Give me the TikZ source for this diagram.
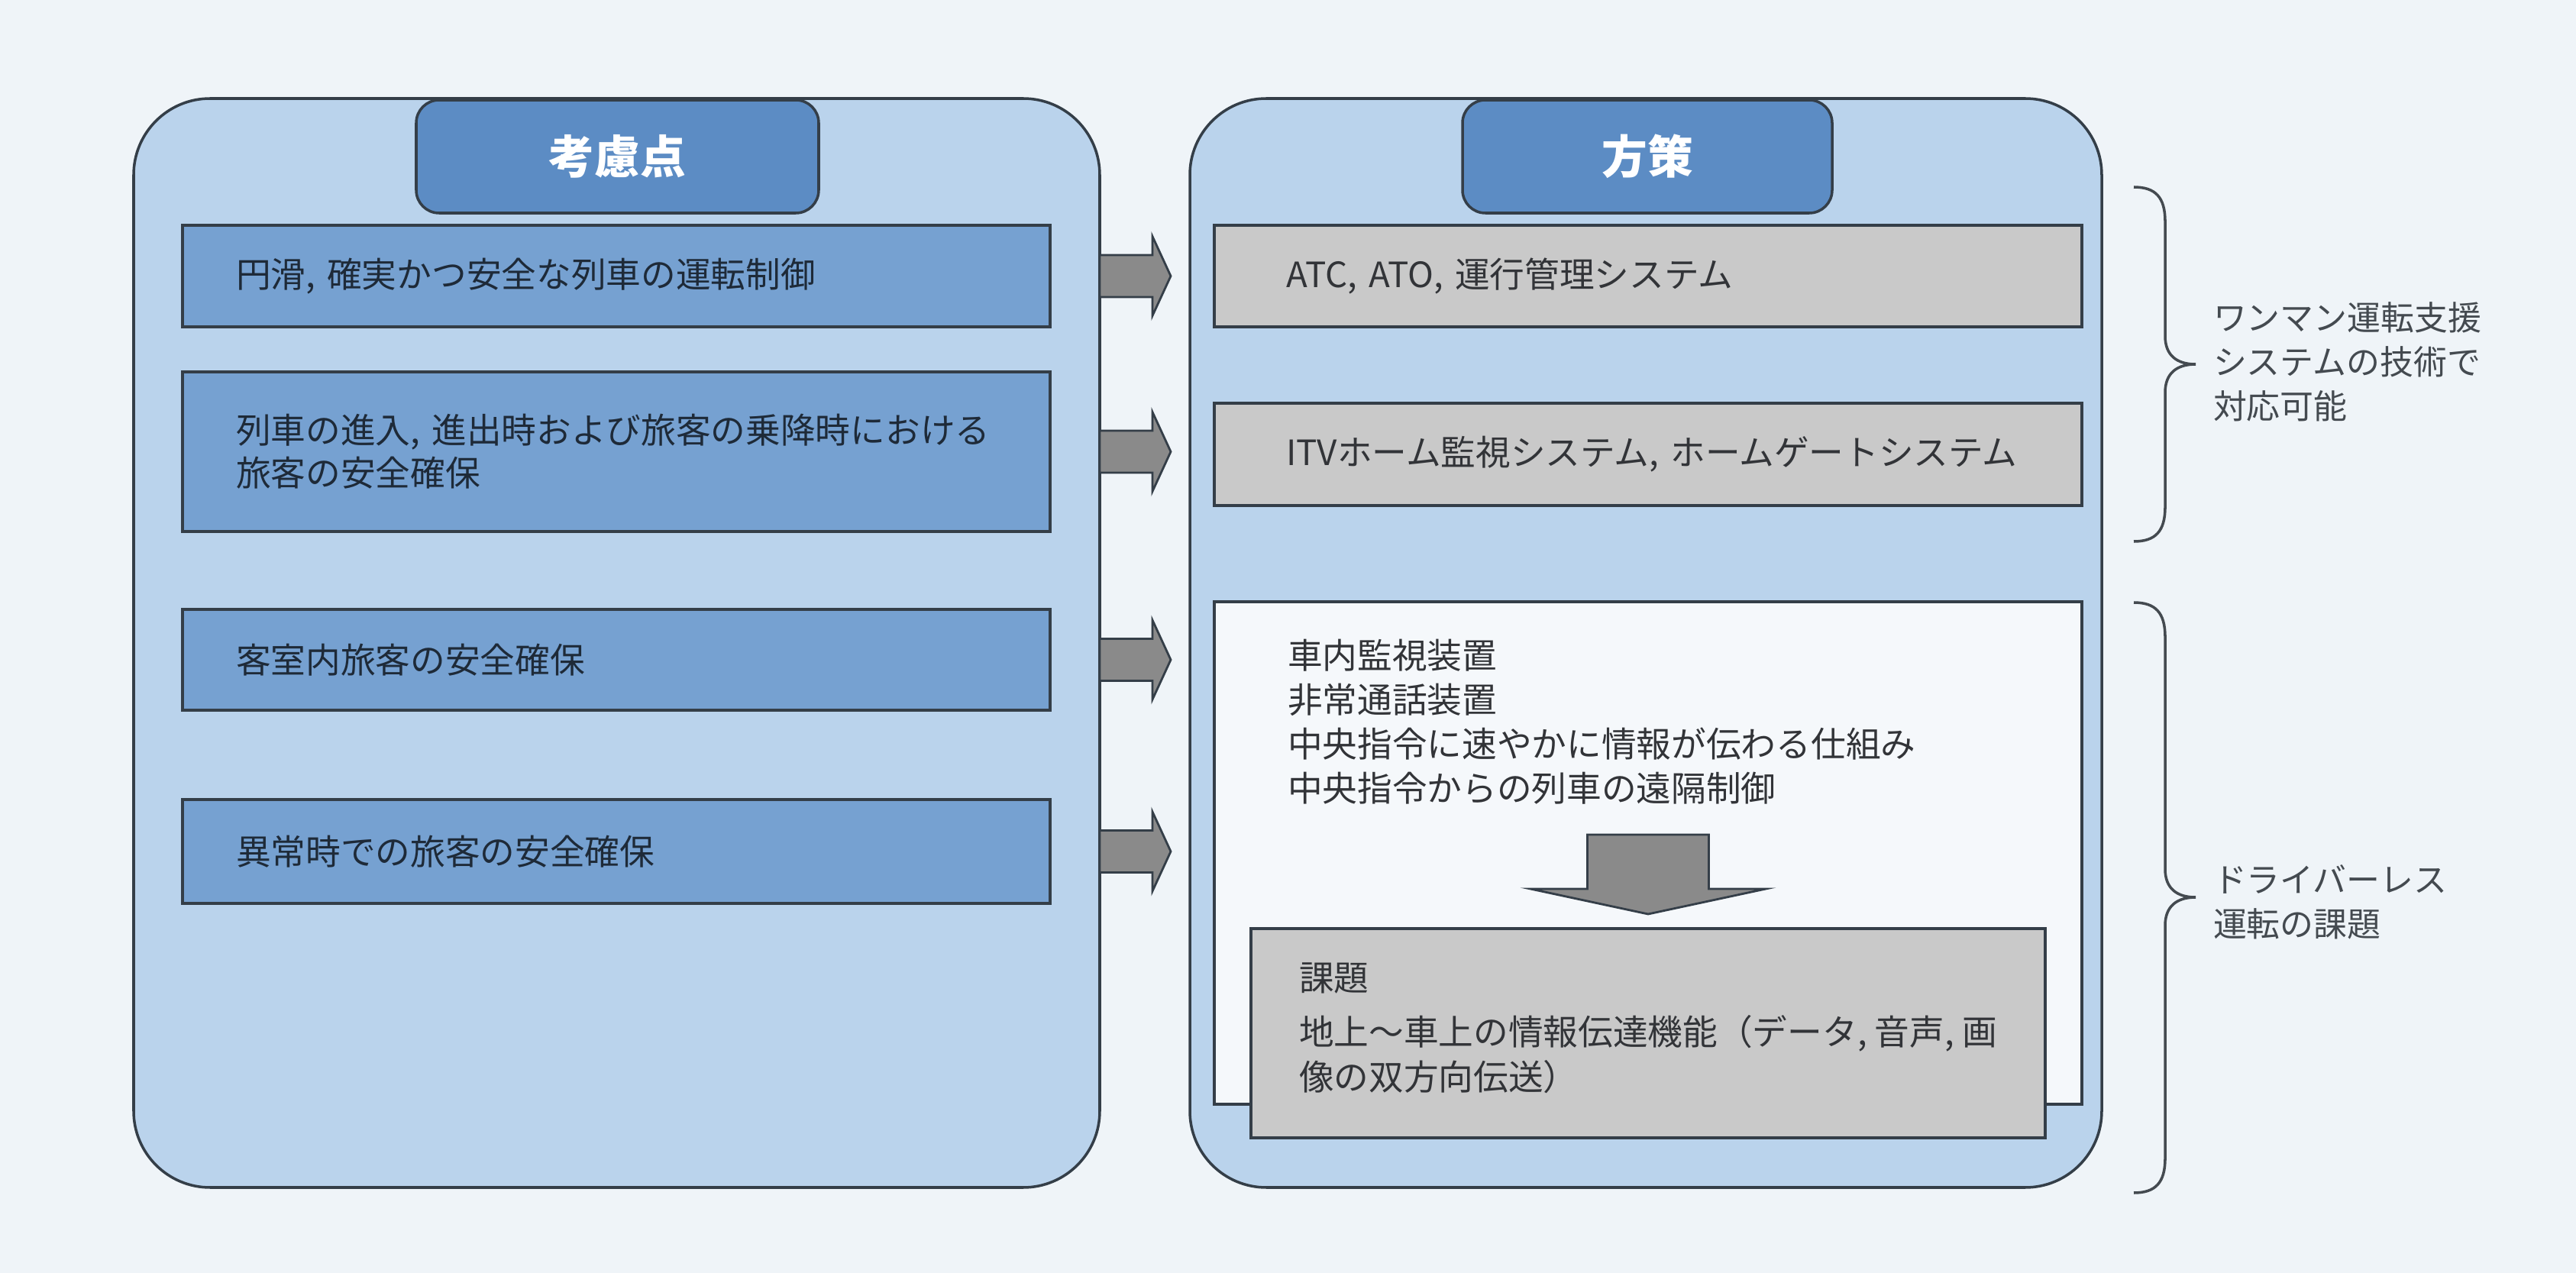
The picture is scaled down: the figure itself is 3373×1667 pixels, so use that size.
\documentclass[tikz,border=0pt]{standalone}
\usepackage{fontspec}
\setmainfont{Noto Sans CJK JP}
\usetikzlibrary{calc}
\definecolor{bgc}{RGB}{239,244,248}
\definecolor{outerc}{RGB}{186,211,236}
\definecolor{tabc}{RGB}{92,140,196}
\definecolor{lbarc}{RGB}{118,161,209}
\definecolor{grayc}{RGB}{201,201,201}
\definecolor{whitec}{RGB}{245,248,251}
\definecolor{arrowc}{RGB}{138,138,138}
\definecolor{linec}{RGB}{52,62,72}
\definecolor{txtc}{RGB}{30,42,56}
\definecolor{rtxtc}{RGB}{50,52,56}
\definecolor{labc}{RGB}{68,74,80}
\newcommand\myBody{\fontsize{13pt}{16pt}\selectfont}
\begin{document}
\begin{tikzpicture}[x=0.1mm,y=-0.1mm,line width=1pt,
  every node/.style={inner sep=0pt,outer sep=0pt},
  panel/.style={draw=linec,fill=outerc,rounded corners=10mm,minimum width=#1,minimum height=142.6mm,anchor=north west},
  tab/.style={draw=linec,fill=tabc,rounded corners=3mm,minimum width=#1,minimum height=14.8mm,anchor=north west,text=white,font=\fontsize{17pt}{20pt}\selectfont\bfseries},
  lbar/.style={draw=linec,fill=lbarc,minimum width=113.6mm,text width=99.6mm,inner xsep=7mm,align=left,anchor=north west,minimum height=#1,text=txtc,font=\myBody},
  rbar/.style={draw=linec,fill=grayc,minimum width=113.6mm,text width=94.8mm,inner xsep=9.4mm,align=left,anchor=north west,minimum height=#1,text=rtxtc,font=\myBody},
  plain/.style={align=left,anchor=west,text=rtxtc,font=\myBody},
  lab/.style={align=left,anchor=west,text=labc,font=\fontsize{12.5pt}{16.5pt}\selectfont},
  blockarrow/.style={draw=linec,fill=arrowc,line width=0.8pt,line join=miter},
  bracestyle/.style={draw=labc,line width=1pt}]
\fill[bgc] (0,0) rectangle (3373,1667);
\useasboundingbox (0,0) rectangle (3373,1667);

% panels
\node[panel=126.5mm] (LP) at (175,129) {};
\node[panel=119.4mm] (RP) at (1558,129) {};
\node[tab=52.7mm] (LT) at (545,131) {考慮点};
\node[tab=48.4mm] (RT) at (1915,131) {方策};

% left bars
\node[lbar=13.3mm] (L1) at (239,295) {円滑, 確実かつ安全な列車の運転制御};
\node[lbar=20.9mm] (L2) at (239,487) {列車の進入, 進出時および旅客の乗降時における\\旅客の安全確保};
\node[lbar=13.2mm] (L3) at (239,798) {客室内旅客の安全確保};
\node[lbar=13.6mm] (L4) at (239,1047) {異常時での旅客の安全確保};

% right bars
\node[rbar=13.3mm] (R1) at (1590,295) {ATC, ATO, 運行管理システム};
\node[rbar=13.4mm] (R2) at (1590,528) {\mbox{ITVホーム監視システム, ホームゲートシステム}};
\node[draw=linec,fill=whitec,minimum width=113.6mm,minimum height=65.8mm,anchor=north west] (W) at (1590,788) {};
\node[plain,font=\fontsize{13pt}{16.5pt}\selectfont] (Wt) at (1686,945) {車内監視装置\\非常通話装置\\中央指令に速やかに情報が伝わる仕組み\\中央指令からの列車の遠隔制御};
\node[draw=linec,fill=grayc,minimum width=104mm,minimum height=27.4mm,anchor=north west] (K) at (1638,1216) {};
\node[plain,font=\fontsize{13pt}{16.8pt}\selectfont] (Kt) at (1701,1346) {課題\\[1.2mm]地上～車上の情報伝達機能（データ, 音声, 画\\像の双方向伝送）};

% right-pointing block arrows
\foreach \n/\b in {1/L1,2/L2,3/L3,4/L4}{
  \path (LP.east |- \b.center) coordinate (a\n);
  \draw[blockarrow] ($(a\n)+(0,-27.5)$) -- ++(69,0) -- ++(0,-24.5) -- ($(a\n)+(93,0)$) -- ($(a\n)+(69,52)$) -- ++(0,-24.5) -- ($(a\n)+(0,27.5)$) -- cycle;
}

% down block arrow
\path (K.north) coordinate (kt);
\draw[blockarrow] ($(kt)+(-79.5,-123)$) -- ++(159,0) -- ++(0,71) -- ++(74.5,0) -- ($(kt)+(0,-19)$) -- ($(kt)+(-154,-52)$) -- ($(kt)+(-79.5,-52)$) -- cycle;

% braces
\draw[bracestyle] (2794,245) .. controls (2822,245) and (2835,258) .. (2835,290) -- (2835,440) .. controls (2835,465) and (2850,477) .. (2875,477) .. controls (2850,477) and (2835,489) .. (2835,514) -- (2835,664) .. controls (2835,696) and (2822,709) .. (2794,709);
\draw[bracestyle] (2794,789) .. controls (2822,789) and (2835,802) .. (2835,834) -- (2835,1138) .. controls (2835,1163) and (2850,1175) .. (2875,1175) .. controls (2850,1175) and (2835,1187) .. (2835,1212) -- (2835,1517) .. controls (2835,1549) and (2822,1562) .. (2794,1562);

% brace labels
\node[lab] (B1) at (2898,474) {ワンマン運転支援\\システムの技術で\\対応可能};
\node[lab] (B2) at (2898,1181) {ドライバーレス\\運転の課題};
\end{tikzpicture}
\end{document}
